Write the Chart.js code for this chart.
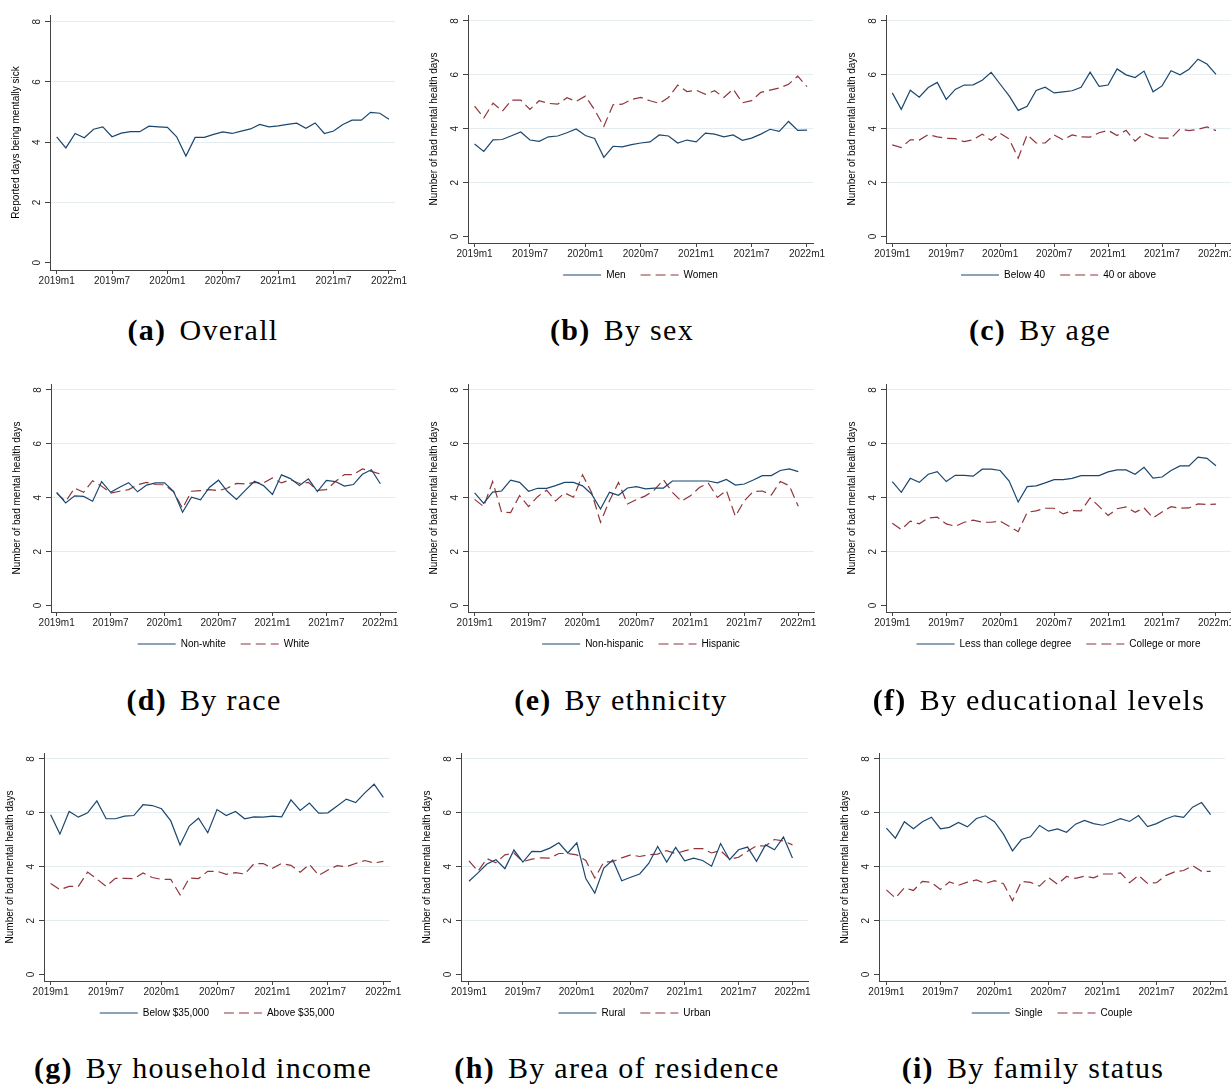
<!DOCTYPE html>
<html>
<head>
<meta charset="utf-8">
<script src="https://cdn.jsdelivr.net/npm/chart.js@4.4.1/dist/chart.umd.min.js"></script>
<style>
  body { margin: 0; background: #fff; }
  #fig { position: relative; width: 1231px; height: 1086px; overflow: hidden; background: #fff; }
  .plot { position: absolute; }
  .cap { position: absolute; font-family: "Liberation Serif", "Times New Roman", serif; font-size: 30px; line-height: 30px;
         white-space: nowrap; transform: translateX(-50%); letter-spacing: 1.3px; color: #000; }
  .cap b { margin-right: 13px; }
</style>
</head>
<body>
<div id="fig"></div>
<script>
// monthly waves 2019m1 .. 2022m1
const months = [];
for (let y = 2019; y <= 2022; y++) for (let m = 1; m <= 12; m++) if (y < 2022 || m === 1) months.push(y + 'm' + m);
const xTicks = [0, 6, 12, 18, 24, 30, 36];
const yTicks = [0, 2, 4, 6, 8];

const overall = [4.18,3.81,4.29,4.15,4.43,4.51,4.18,4.30,4.35,4.35,4.53,4.51,4.49,4.18,3.54,4.16,4.16,4.26,4.34,4.29,4.37,4.44,4.59,4.51,4.54,4.59,4.63,4.46,4.64,4.29,4.37,4.59,4.73,4.73,4.99,4.96,4.76];

const men = [3.43,3.16,3.59,3.60,3.74,3.88,3.58,3.53,3.70,3.73,3.85,3.99,3.75,3.64,2.94,3.35,3.33,3.41,3.47,3.51,3.77,3.73,3.47,3.58,3.51,3.84,3.80,3.70,3.77,3.57,3.65,3.80,3.98,3.90,4.27,3.94,3.95];
const women = [4.84,4.40,4.95,4.65,5.06,5.06,4.72,5.04,4.94,4.91,5.15,5.01,5.21,4.70,4.09,4.89,4.91,5.09,5.16,5.04,4.94,5.16,5.62,5.38,5.43,5.28,5.41,5.16,5.47,4.96,5.04,5.35,5.43,5.51,5.65,5.95,5.56];

const below40 = [5.33,4.72,5.43,5.17,5.53,5.72,5.09,5.46,5.62,5.63,5.80,6.09,5.65,5.22,4.68,4.83,5.42,5.54,5.33,5.37,5.41,5.54,6.10,5.57,5.62,6.22,6.00,5.90,6.14,5.37,5.59,6.15,6.00,6.21,6.58,6.40,6.02];
const above40 = [3.40,3.30,3.59,3.58,3.78,3.70,3.64,3.63,3.52,3.59,3.80,3.57,3.83,3.62,2.91,3.78,3.47,3.47,3.77,3.59,3.77,3.70,3.69,3.85,3.94,3.75,3.94,3.54,3.83,3.68,3.65,3.65,3.99,3.93,3.98,4.07,3.93];

const nonWhite = [4.20,3.81,4.07,4.05,3.87,4.60,4.20,4.39,4.56,4.22,4.47,4.55,4.55,4.24,3.46,4.02,3.92,4.39,4.65,4.23,3.94,4.28,4.61,4.45,4.12,4.85,4.71,4.45,4.70,4.23,4.64,4.60,4.43,4.49,4.87,5.04,4.52];
const white = [4.17,3.86,4.36,4.20,4.63,4.43,4.17,4.24,4.30,4.48,4.57,4.49,4.48,4.22,3.61,4.24,4.26,4.30,4.26,4.36,4.53,4.51,4.57,4.55,4.73,4.55,4.67,4.53,4.57,4.27,4.30,4.60,4.86,4.86,5.07,4.98,4.88];

const nonHispanic = [4.18,3.79,4.21,4.25,4.65,4.57,4.24,4.35,4.35,4.45,4.57,4.57,4.44,4.14,3.58,4.20,4.09,4.36,4.41,4.33,4.36,4.36,4.62,4.62,4.62,4.62,4.62,4.55,4.68,4.47,4.51,4.66,4.82,4.82,5.01,5.07,4.97];
const hispanic = [3.94,3.67,4.60,3.46,3.45,4.08,3.67,4.04,4.28,3.88,4.18,4.02,4.85,4.20,3.09,3.89,4.57,3.77,3.93,4.07,4.29,4.67,4.20,3.87,4.07,4.38,4.54,4.01,4.27,3.31,3.89,4.23,4.25,4.10,4.60,4.45,3.68];

const lessCollege = [4.60,4.20,4.72,4.57,4.87,4.97,4.60,4.83,4.83,4.80,5.06,5.06,5.01,4.62,3.84,4.41,4.44,4.55,4.67,4.67,4.72,4.82,4.82,4.82,4.96,5.03,5.03,4.87,5.13,4.73,4.77,5.01,5.18,5.18,5.51,5.46,5.19];
const college = [3.05,2.82,3.13,3.03,3.25,3.28,3.03,2.94,3.09,3.17,3.09,3.09,3.13,2.94,2.74,3.46,3.51,3.61,3.61,3.40,3.52,3.51,3.99,3.68,3.34,3.59,3.66,3.46,3.62,3.25,3.47,3.67,3.61,3.62,3.77,3.75,3.76];

const lowIncome = [5.93,5.21,6.05,5.84,6.00,6.44,5.78,5.78,5.88,5.90,6.30,6.27,6.15,5.70,4.81,5.51,5.80,5.26,6.12,5.90,6.05,5.78,5.85,5.84,5.88,5.85,6.48,6.09,6.36,5.99,6.00,6.25,6.51,6.38,6.74,7.06,6.57];
const highIncome = [3.38,3.15,3.27,3.27,3.80,3.54,3.27,3.57,3.57,3.56,3.77,3.60,3.53,3.53,2.96,3.58,3.56,3.83,3.83,3.72,3.78,3.73,4.11,4.12,3.94,4.12,4.05,3.80,4.09,3.68,3.88,4.04,4.00,4.12,4.23,4.14,4.20];

const rural = [3.46,3.77,4.10,4.26,3.93,4.62,4.17,4.57,4.56,4.69,4.89,4.51,4.89,3.56,3.02,3.95,4.25,3.48,3.61,3.73,4.12,4.75,4.17,4.72,4.22,4.32,4.23,4.02,4.86,4.26,4.63,4.73,4.20,4.81,4.63,5.10,4.32];
const urban = [4.22,3.83,4.30,4.15,4.44,4.51,4.19,4.28,4.33,4.32,4.49,4.49,4.44,4.23,3.58,4.17,4.19,4.33,4.44,4.38,4.44,4.47,4.60,4.49,4.59,4.67,4.67,4.51,4.60,4.28,4.35,4.57,4.78,4.77,5.01,4.96,4.81];

const single = [5.43,5.06,5.67,5.41,5.67,5.84,5.41,5.46,5.64,5.48,5.79,5.89,5.67,5.21,4.59,5.01,5.11,5.53,5.32,5.40,5.28,5.58,5.72,5.60,5.54,5.65,5.78,5.68,5.90,5.49,5.60,5.77,5.89,5.83,6.21,6.38,5.93];
const couple = [3.14,2.84,3.22,3.12,3.46,3.42,3.16,3.44,3.31,3.43,3.51,3.38,3.48,3.37,2.74,3.46,3.42,3.28,3.60,3.35,3.64,3.57,3.65,3.59,3.73,3.73,3.77,3.41,3.68,3.38,3.41,3.67,3.81,3.86,4.04,3.83,3.83];

const Y_TITLE = 'Number of bad mental health days';

// box = plot region [left, top, right, bottom] in page pixels; xr = x range in months
const panels = [
  { tag: '(a)', name: 'Overall', yTitle: 'Reported days being mentally sick', series: [['', overall]],
    box: [50, 14, 395, 270], xr: [-0.72, 36.65], cap: [203, 315] },
  { tag: '(b)', name: 'By sex', yTitle: Y_TITLE, series: [['Men', men], ['Women', women]],
    box: [468, 14, 813, 243], xr: [-0.71, 36.65], cap: [622, 315] },
  { tag: '(c)', name: 'By age', yTitle: Y_TITLE, series: [['Below 40', below40], ['40 or above', above40]],
    box: [886, 14, 1231, 243], xr: [-0.7, 37.67], cap: [1040, 315] },
  { tag: '(d)', name: 'By race', yTitle: Y_TITLE, series: [['Non-white', nonWhite], ['White', white]],
    box: [51, 383, 396, 612], xr: [-0.63, 37.74], cap: [204, 685] },
  { tag: '(e)', name: 'By ethnicity', yTitle: Y_TITLE, series: [['Non-hispanic', nonHispanic], ['Hispanic', hispanic]],
    box: [468, 383, 814, 612], xr: [-0.74, 37.75], cap: [621, 685] },
  { tag: '(f)', name: 'By educational levels', yTitle: Y_TITLE, series: [['Less than college degree', lessCollege], ['College or more', college]],
    box: [886, 383, 1231, 612], xr: [-0.7, 37.67], cap: [1039, 685] },
  { tag: '(g)', name: 'By household income', yTitle: Y_TITLE, series: [['Below $35,000', lowIncome], ['Above $35,000', highIncome]],
    box: [44, 752, 390, 981], xr: [-0.72, 36.72], cap: [203, 1053] },
  { tag: '(h)', name: 'By area of residence', yTitle: Y_TITLE, series: [['Rural', rural], ['Urban', urban]],
    box: [461, 752, 808, 981], xr: [-0.89, 37.73], cap: [617, 1053] },
  { tag: '(i)', name: 'By family status', yTitle: Y_TITLE, series: [['Single', single], ['Couple', couple]],
    box: [879, 752, 1225, 981], xr: [-0.82, 37.6], cap: [1033, 1053] }
];

const lineStyles = [
  { borderColor: '#1a476f', borderDash: [] },
  { borderColor: '#90353b', borderDash: [10, 5] }
];
const SANS = 'Liberation Sans';
const AXIS = '#444';
const LINE_W = 1.2;
const SIDE = 50;     // width of the y-axis strip (and the matching blank strip on the right)
const XAX_H = 19;
const LEG_H = 35;
const LEG_LIFT = 7;  // pull the legend row up closer to the axis labels

// legend samples: use the dataset's own dash pattern instead of the point style
function legendLabels(chart) {
  return Chart.defaults.plugins.legend.labels.generateLabels(chart).map(it => {
    const ds = chart.data.datasets[it.datasetIndex];
    return Object.assign(it, { lineDash: ds.borderDash, lineWidth: LINE_W, strokeStyle: ds.borderColor });
  });
}

const liftLegend = {
  id: 'liftLegend',
  afterLayout(chart) {
    const lg = chart.legend;
    if (lg && lg.options.display) { lg.top -= LEG_LIFT; lg.bottom -= LEG_LIFT; }
  }
};

const fig = document.getElementById('fig');

panels.forEach(p => {
  const [L, T, R, B] = p.box;
  const hasLegend = p.series.length > 1;
  const left = L - SIDE, top = T - 10;
  const w = R - L + 2 * SIDE;
  const h = B - top + XAX_H + (hasLegend ? LEG_H : 2);

  const div = document.createElement('div');
  div.className = 'plot';
  div.style.left = left + 'px';
  div.style.top = top + 'px';
  const canvas = document.createElement('canvas');
  canvas.width = w; canvas.height = h;
  canvas.style.width = w + 'px'; canvas.style.height = h + 'px';
  div.appendChild(canvas);
  fig.appendChild(div);

  new Chart(canvas, {
    type: 'line',
    data: {
      datasets: p.series.map(([label, vals], i) => ({
        label,
        data: vals.map((v, k) => ({ x: k, y: v })),
        borderColor: lineStyles[i].borderColor,
        borderDash: lineStyles[i].borderDash,
        borderWidth: LINE_W,
        pointRadius: 0,
        tension: 0,
        fill: false
      }))
    },
    plugins: [liftLegend],
    options: {
      responsive: false,
      animation: false,
      layout: { padding: { top: 10, left: 0, right: 0, bottom: hasLegend ? 0 : 2 } },
      plugins: {
        tooltip: { enabled: false },
        legend: {
          display: hasLegend,
          position: 'bottom',
          labels: {
            usePointStyle: true, pointStyle: 'line', pointStyleWidth: 38, boxHeight: 10,
            padding: 15, color: '#000', font: { family: SANS, size: 10 },
            generateLabels: legendLabels
          }
        }
      },
      scales: {
        x: {
          type: 'linear', min: p.xr[0], max: p.xr[1],
          afterBuildTicks: s => { s.ticks = xTicks.map(v => ({ value: v })); },
          afterFit: s => { s.height = XAX_H; },
          grid: { drawOnChartArea: false, drawTicks: true, tickLength: 4, tickColor: AXIS },
          border: { display: true, color: AXIS, width: 1 },
          ticks: {
            autoSkip: false, minRotation: 0, maxRotation: 0, padding: 1, color: '#222',
            font: { family: SANS, size: 10 },
            callback: v => months[v]
          }
        },
        y: {
          min: -0.24, max: 8.22,
          afterBuildTicks: s => { s.ticks = yTicks.map(v => ({ value: v })); },
          afterFit: s => { s.width = SIDE; },
          grid: {
            color: c => (c.tick && c.tick.value === 0) ? 'rgba(0,0,0,0)' : '#e5edf0',
            tickColor: AXIS, tickLength: 5, lineWidth: 1
          },
          border: { display: true, color: AXIS, width: 1 },
          ticks: {
            minRotation: 90, maxRotation: 90, crossAlign: 'center', padding: 5, color: '#222',
            font: { family: SANS, size: 10 }
          },
          title: {
            display: true, text: p.yTitle, color: '#000',
            font: { family: SANS, size: 10 }, padding: { top: 10, bottom: 0 }
          }
        },
        pad: {
          position: 'right', display: true,
          afterFit: s => { s.width = SIDE; },
          grid: { display: false }, border: { display: false }, ticks: { display: false }
        }
      }
    }
  });

  const cap = document.createElement('div');
  cap.className = 'cap';
  cap.style.left = p.cap[0] + 'px';
  cap.style.top = p.cap[1] + 'px';
  const b = document.createElement('b');
  b.textContent = p.tag;
  const s = document.createElement('span');
  s.textContent = p.name;
  cap.appendChild(b); cap.appendChild(s);
  fig.appendChild(cap);
});
</script>
</body>
</html>
